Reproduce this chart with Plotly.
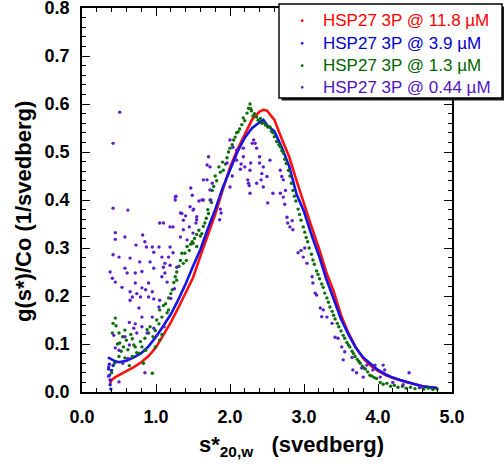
import plotly.graph_objects as go

# ---------------- data ----------------
RED_S = [0.38, 0.40, 0.45, 0.50, 0.60, 0.70, 0.80, 0.90, 1.00, 1.10, 1.20, 1.30, 1.40, 1.50,
         1.60, 1.70, 1.80, 1.90, 2.00, 2.10, 2.20, 2.30, 2.40, 2.45, 2.50, 2.60, 2.70, 2.80,
         2.90, 3.00, 3.10, 3.20, 3.30, 3.40, 3.50, 3.60, 3.70, 3.80, 3.90, 4.00, 4.10, 4.20,
         4.30, 4.40, 4.50, 4.60, 4.70, 4.80]
RED_G = [0.018, 0.025, 0.031, 0.035, 0.043, 0.052, 0.062, 0.075, 0.093, 0.118, 0.145, 0.175,
         0.205, 0.238, 0.283, 0.328, 0.370, 0.420, 0.468, 0.505, 0.537, 0.568, 0.584, 0.588,
         0.586, 0.567, 0.527, 0.490, 0.440, 0.390, 0.345, 0.300, 0.250, 0.210, 0.160, 0.123,
         0.093, 0.070, 0.055, 0.044, 0.035, 0.029, 0.024, 0.020, 0.016, 0.012, 0.010, 0.008]

BLUE_S = [0.35, 0.40, 0.45, 0.50, 0.60, 0.70, 0.80, 0.90, 1.00, 1.10,
          1.20, 1.30, 1.40, 1.50, 1.60, 1.70, 1.80, 1.90, 2.00, 2.10, 2.20, 2.30, 2.40, 2.45,
          2.50, 2.60, 2.70, 2.80, 2.90, 3.00, 3.10, 3.20, 3.30, 3.40, 3.50, 3.60, 3.70, 3.80,
          3.90, 4.00, 4.10, 4.20, 4.30, 4.40, 4.50, 4.60, 4.70, 4.80]
BLUE_G = [0.072, 0.068, 0.064, 0.062, 0.065, 0.072, 0.081, 0.095,
          0.115, 0.138, 0.162, 0.192, 0.225, 0.262, 0.297, 0.340, 0.380, 0.425, 0.463, 0.500,
          0.530, 0.550, 0.562, 0.567, 0.556, 0.543, 0.510, 0.470, 0.412, 0.376, 0.328, 0.285,
          0.236, 0.195, 0.152, 0.120, 0.092, 0.072, 0.058, 0.046, 0.037, 0.030, 0.025, 0.020,
          0.016, 0.012, 0.010, 0.008]
# loose blue dots near the left start of the curve
BLUE_LOW_S = [0.39, 0.38, 0.38, 0.37, 0.36, 0.37, 0.40, 0.42]
BLUE_LOW_G = [0.006, 0.015, 0.025, 0.035, 0.048, 0.058, 0.045, 0.055]

GREEN_S = [0.40, 0.41, 0.42, 0.44, 0.45, 0.46, 0.48, 0.50, 0.50, 0.51,
           0.53, 0.55, 0.56, 0.58, 0.58, 0.60, 0.62, 0.64, 0.66, 0.68,
           0.68, 0.70, 0.72, 0.74, 0.77, 0.79, 0.81, 0.83, 0.85, 0.86,
           0.88, 0.90, 0.92, 0.95, 0.96, 0.99, 0.99, 1.01, 1.04, 1.05,
           1.05, 1.08, 1.08, 1.10, 1.13, 1.15, 1.17, 1.17, 1.20, 1.22,
           1.24, 1.26, 1.28, 1.28, 1.31, 1.33, 1.35, 1.37, 1.39, 1.41,
           1.42, 1.45, 1.47, 1.49, 1.50, 1.52, 1.55, 1.55, 1.58, 1.60,
           1.62, 1.64, 1.66, 1.68, 1.70, 1.71, 1.73, 1.75, 1.76, 1.78,
           1.80, 1.82, 1.85, 1.87, 1.90, 1.91, 1.94, 1.96, 1.98, 2.00,
           2.03, 2.05, 2.07, 2.09, 2.11, 2.13, 2.16, 2.18, 2.20, 2.23,
           2.25, 2.27, 2.28, 2.29, 2.31, 2.33, 2.36, 2.38, 2.41, 2.43,
           2.45, 2.48, 2.51, 2.54, 2.56, 2.58, 2.60, 2.63, 2.66, 2.68,
           2.70, 2.72, 2.74, 2.76, 2.79, 2.81, 2.83, 2.85, 2.87, 2.89,
           2.92, 2.94, 2.96, 2.99, 3.01, 3.03, 3.05, 3.07, 3.10, 3.12,
           3.14, 3.17, 3.19, 3.21, 3.24, 3.26, 3.28, 3.31, 3.33, 3.35,
           3.38, 3.40, 3.42, 3.45, 3.47, 3.50, 3.53, 3.55, 3.58, 3.60,
           3.62, 3.65, 3.67, 3.69, 3.72, 3.74, 3.76, 3.79, 3.81, 3.83,
           3.86, 3.89, 3.92, 3.95, 3.98, 4.03, 4.07, 4.12, 4.17, 4.22,
           4.27, 4.33, 4.38, 4.44, 4.50, 4.56, 4.62, 4.68, 4.74, 4.80]
GREEN_G = [0.040, 0.123, 0.143, 0.060, 0.154, 0.138, 0.100, 0.123, 0.074, 0.102,
           0.085, 0.115, 0.094, 0.129, 0.071, 0.108, 0.088, 0.055, 0.120, 0.111,
           0.074, 0.098, 0.094, 0.082, 0.081, 0.105, 0.094, 0.060, 0.112, 0.087,
           0.130, 0.123, 0.136, 0.039, 0.115, 0.128, 0.094, 0.150, 0.142, 0.171,
           0.108, 0.156, 0.120, 0.180, 0.184, 0.165, 0.196, 0.171, 0.205, 0.213,
           0.228, 0.240, 0.250, 0.233, 0.262, 0.274, 0.289, 0.268, 0.289, 0.274,
           0.303, 0.295, 0.308, 0.313, 0.310, 0.320, 0.328, 0.303, 0.337, 0.325,
           0.330, 0.345, 0.352, 0.362, 0.380, 0.372, 0.400, 0.395, 0.420, 0.428,
           0.450, 0.440, 0.469, 0.458, 0.479, 0.462, 0.475, 0.488, 0.500, 0.508,
           0.515, 0.525, 0.531, 0.540, 0.542, 0.548, 0.557, 0.571, 0.565, 0.581,
           0.591, 0.600, 0.590, 0.586, 0.575, 0.580, 0.573, 0.566, 0.570, 0.560,
           0.561, 0.556, 0.552, 0.552, 0.543, 0.540, 0.532, 0.522, 0.515, 0.511,
           0.503, 0.498, 0.485, 0.476, 0.462, 0.450, 0.435, 0.420, 0.408, 0.398,
           0.381, 0.370, 0.358, 0.344, 0.333, 0.322, 0.313, 0.300, 0.287, 0.275,
           0.266, 0.252, 0.245, 0.236, 0.225, 0.218, 0.206, 0.196, 0.187, 0.177,
           0.168, 0.160, 0.152, 0.143, 0.136, 0.127, 0.118, 0.112, 0.103, 0.098,
           0.094, 0.085, 0.080, 0.074, 0.068, 0.064, 0.060, 0.054, 0.050, 0.048,
           0.042, 0.035, 0.033, 0.030, 0.028, 0.020, 0.016, 0.018, 0.012, 0.014,
           0.010, 0.012, 0.008, 0.010, 0.007, 0.009, 0.006, 0.008, 0.005, 0.006]

PURPLE_S = [0.51, 0.42, 0.42, 0.62, 0.45, 0.42, 0.50, 0.58, 0.73, 0.82,
            0.85, 1.05, 1.19, 1.27, 1.26, 1.35, 1.40, 1.46, 1.49, 1.47,
            1.51, 1.55, 1.62, 1.58, 1.69, 1.71, 1.73, 1.74, 1.86, 1.87,
            2.00, 2.03, 2.09, 2.14, 2.18, 2.24, 2.28, 2.26, 2.34, 2.40,
            2.42, 2.43, 2.51, 2.00, 2.09, 2.27, 2.30, 2.36, 2.40, 2.45,
            2.45, 2.50, 2.54, 2.58, 2.68, 2.72, 2.75, 2.68, 2.27, 2.36,
            2.15, 2.18, 2.70, 2.72, 2.74, 2.77, 2.78, 2.81, 2.84, 2.85,
            2.92, 2.96, 2.99, 3.01, 3.04, 3.11, 3.12, 3.15, 3.17, 3.22,
            3.26, 3.24, 3.31, 3.38, 3.42, 3.46, 3.51, 3.55, 3.53, 3.65,
            3.66, 3.71, 3.78, 3.85, 3.80, 3.93, 3.96, 4.07, 4.09, 4.03,
            4.20, 4.34, 4.57, 4.42, 0.45, 0.87, 0.95, 1.04, 0.97, 0.65,
            0.78, 0.92, 1.08, 1.17, 1.12, 0.58, 0.97, 1.19, 0.38, 0.61,
            0.72, 0.81, 0.41, 0.45, 0.72, 0.90, 1.08, 1.15, 0.54, 0.81,
            0.65, 0.74, 0.86, 0.95, 0.68, 0.79, 0.90, 0.97, 1.05, 0.65,
            0.77, 1.04, 0.95, 0.81, 0.64, 0.72, 0.81, 0.70, 0.74, 0.88,
            0.97, 1.01, 1.11, 0.43, 0.58, 0.64, 0.45, 0.50, 0.36, 0.85,
            0.36, 0.50, 1.10, 1.23, 1.37, 1.45, 1.54, 1.50, 1.19, 1.23,
            1.28, 1.10, 1.12, 1.33, 1.42, 1.55, 1.73, 1.76, 1.86, 1.88,
            1.96, 2.04, 2.20, 2.25, 2.32, 1.33, 1.37, 1.64, 1.69, 1.50,
            1.64, 1.26, 1.20, 1.25, 0.55, 0.62]
PURPLE_G = [0.583, 0.518, 0.383, 0.379, 0.332, 0.286, 0.281, 0.323, 0.306, 0.327,
            0.313, 0.352, 0.344, 0.408, 0.400, 0.372, 0.367, 0.386, 0.410, 0.425,
            0.381, 0.359, 0.400, 0.398, 0.442, 0.490, 0.469, 0.400, 0.359, 0.381,
            0.427, 0.450, 0.483, 0.464, 0.490, 0.442, 0.477, 0.430, 0.518, 0.477,
            0.442, 0.455, 0.394, 0.525, 0.504, 0.462, 0.518, 0.508, 0.490, 0.469,
            0.427, 0.449, 0.483, 0.414, 0.462, 0.442, 0.420, 0.414, 0.414, 0.435,
            0.475, 0.508, 0.449, 0.406, 0.391, 0.364, 0.352, 0.344, 0.357, 0.338,
            0.290, 0.295, 0.281, 0.300, 0.268, 0.240, 0.227, 0.206, 0.202, 0.175,
            0.171, 0.157, 0.156, 0.143, 0.114, 0.112, 0.094, 0.084, 0.067, 0.072,
            0.046, 0.040, 0.050, 0.056, 0.031, 0.046, 0.056, 0.056, 0.046, 0.031,
            0.020, 0.015, 0.010, 0.040, 0.318, 0.302, 0.302, 0.302, 0.291, 0.279,
            0.271, 0.271, 0.281, 0.281, 0.268, 0.258, 0.258, 0.264, 0.250, 0.248,
            0.248, 0.251, 0.237, 0.229, 0.227, 0.227, 0.240, 0.229, 0.218, 0.217,
            0.209, 0.205, 0.213, 0.209, 0.198, 0.198, 0.198, 0.194, 0.191, 0.191,
            0.175, 0.177, 0.156, 0.156, 0.145, 0.142, 0.136, 0.133, 0.123, 0.123,
            0.133, 0.118, 0.136, 0.118, 0.115, 0.098, 0.092, 0.087, 0.052, 0.040,
            0.033, 0.021, 0.352, 0.344, 0.338, 0.344, 0.352, 0.331, 0.302, 0.290,
            0.260, 0.260, 0.248, 0.323, 0.317, 0.365, 0.421, 0.435, 0.406, 0.373,
            0.477, 0.510, 0.469, 0.435, 0.525, 0.373, 0.358, 0.442, 0.473, 0.379,
            0.400, 0.406, 0.195, 0.215, 0.060, 0.070]

NAMES = ["HSP27 3P @ 11.8 \u00b5M", "HSP27 3P @ 3.9 \u00b5M",
         "HSP27 3P @ 1.3 \u00b5M", "HSP27 3P @ 0.44 \u00b5M"]
COLORS = ["#ff1010", "#1414e6", "#0a6e0a", "#5a1ecc"]
TEXT_COLORS = ["#ff0000", "#0000cc", "#006400", "#5014c0"]

X_TICKS = [0, 1, 2, 3, 4, 5]
X_TICK_TEXT = ["0.0", "1.0", "2.0", "3.0", "4.0", "5.0"]
Y_TICKS = [0.0, 0.1, 0.2, 0.3, 0.4, 0.5, 0.6, 0.7, 0.8]
Y_TICK_TEXT = ["0.0", "0.1", "0.2", "0.3", "0.4", "0.5", "0.6", "0.7", "0.8"]

FONT = "Liberation Sans, Arial, Helvetica, sans-serif"

# plot-area geometry in pixels (for placing legend/titles in paper coordinates)
L, R, T, B = 82, 452, 8, 392
PW, PH = R - L, B - T


def px(x):
    return (x - L) / PW


def py(y):
    return (B - y) / PH


fig = go.Figure()

# red and blue: dense dots that form continuous curves
for i, (xs, ys) in enumerate([(RED_S, RED_G), (BLUE_S, BLUE_G)]):
    fig.add_trace(go.Scatter(x=xs, y=ys, mode="lines", name=NAMES[i],
                             line=dict(color=COLORS[i], width=2.6), showlegend=False))
fig.add_trace(go.Scatter(x=BLUE_LOW_S, y=BLUE_LOW_G, mode="markers", name=NAMES[1],
                         marker=dict(color=COLORS[1], size=3.4), showlegend=False))
fig.add_trace(go.Scatter(x=GREEN_S, y=GREEN_G, mode="markers", name=NAMES[2],
                         marker=dict(color=COLORS[2], size=3.4), showlegend=False))
fig.add_trace(go.Scatter(x=PURPLE_S, y=PURPLE_G, mode="markers", name=NAMES[3],
                         marker=dict(color=COLORS[3], size=3.4), showlegend=False))

axis_common = dict(
    showgrid=False, zeroline=False, showline=True, linecolor="black", linewidth=1.6,
    mirror="ticks", ticks="inside", ticklen=8, tickwidth=1.4, tickcolor="black",
    tickfont=dict(family=FONT, size=18, color="black", weight="bold"),
    automargin=False, ticklabeloverflow="allow",
)

fig.update_xaxes(range=[0, 5], tickmode="array", tickvals=X_TICKS, ticktext=X_TICK_TEXT,
                 minor=dict(dtick=0.2, tick0=0, ticks="inside", ticklen=4, tickwidth=1.2,
                            tickcolor="black"),
                 ticklabelstandoff=8, **axis_common)
fig.update_yaxes(range=[0, 0.8], tickmode="array", tickvals=Y_TICKS, ticktext=Y_TICK_TEXT,
                 minor=dict(dtick=0.02, tick0=0, ticks="inside", ticklen=4, tickwidth=1.2,
                            tickcolor="black"),
                 ticklabelstandoff=7, **axis_common)

# ---- legend box (with drop shadow), drawn as shapes + text ----
fig.add_shape(type="rect", xref="paper", yref="paper",
              x0=px(281.5), x1=px(504.5), y0=py(100.5), y1=py(6.5),
              fillcolor="#1a1a1a", line=dict(width=0), layer="above")
fig.add_shape(type="rect", xref="paper", yref="paper",
              x0=px(279), x1=px(502), y0=py(98), y1=py(4),
              fillcolor="white", line=dict(color="black", width=1.4), layer="above")
ROW_Y = [20.7, 43.3, 65.7, 87.3]
for i in range(4):
    fig.add_shape(type="circle", xref="paper", yref="paper",
                  x0=px(300.8), x1=px(303.6), y0=py(ROW_Y[i] + 1.4), y1=py(ROW_Y[i] - 1.4),
                  fillcolor=COLORS[i], line=dict(width=0), layer="above")
    fig.add_annotation(text=NAMES[i], xref="paper", yref="paper",
                       x=px(322), y=py(ROW_Y[i]), xanchor="left", yanchor="middle",
                       showarrow=False, borderpad=0,
                       font=dict(family=FONT, size=17, color=TEXT_COLORS[i]))

# ---- axis titles ----
fig.add_annotation(text="s*<sub>20,w</sub>\u00a0\u00a0 (svedberg)", xref="paper", yref="paper",
                   x=px(291), y=py(446), xanchor="center", yanchor="middle",
                   showarrow=False, font=dict(family=FONT, size=22, color="black", weight="bold"))
fig.add_annotation(text="g(s*)/Co (1/svedberg)", xref="paper", yref="paper",
                   x=px(23), y=py(212), xanchor="center", yanchor="middle",
                   textangle=-90, showarrow=False,
                   font=dict(family=FONT, size=22, color="black", weight="bold"))

fig.update_layout(
    width=504, height=468,
    margin=dict(l=L, r=504 - R, t=T, b=468 - B, autoexpand=False),
    paper_bgcolor="white", plot_bgcolor="white",
    showlegend=False,
)

fig.write_html("out.html", config={"displayModeBar": False},
               post_script="document.body.style.margin='0';document.body.style.padding='0';")
